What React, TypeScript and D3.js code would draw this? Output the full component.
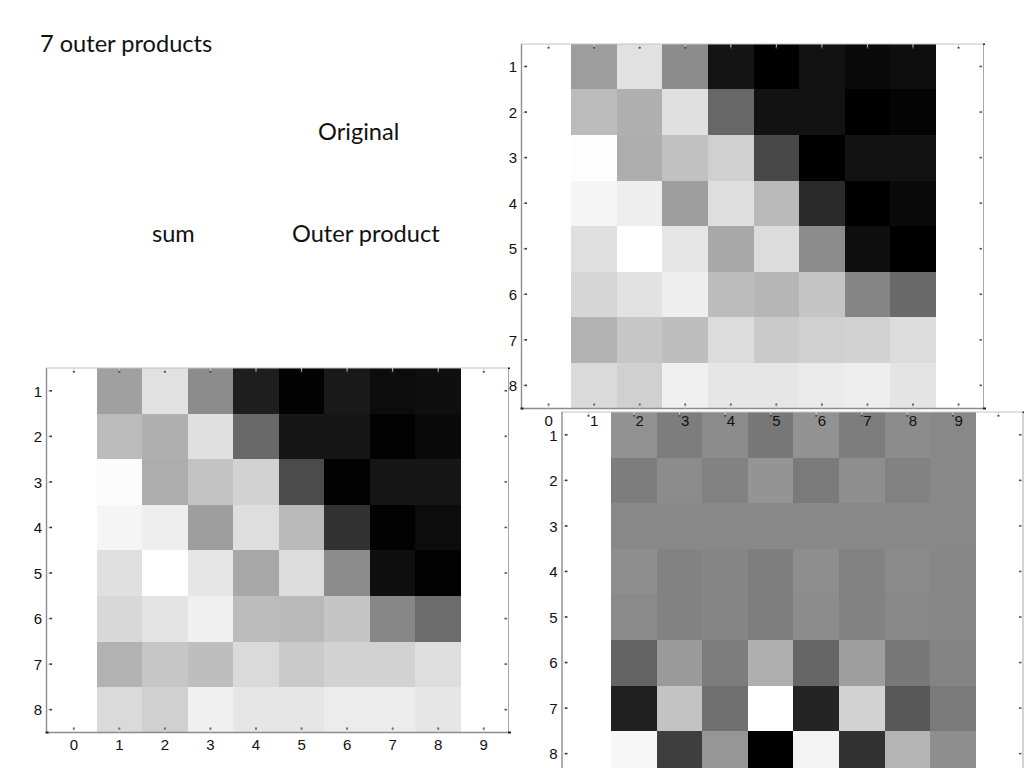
import React from "react";
import * as d3 from "d3";

const originalGrid: number[][] = [
  [157, 225, 140, 20, 0, 18, 10, 14],
  [187, 176, 224, 103, 18, 18, 0, 4],
  [253, 173, 193, 208, 72, 0, 18, 18],
  [245, 238, 158, 222, 185, 42, 0, 10],
  [224, 255, 230, 168, 220, 140, 15, 0],
  [214, 226, 238, 188, 182, 197, 133, 105],
  [178, 198, 190, 220, 202, 208, 210, 220],
  [218, 208, 240, 230, 230, 235, 238, 228],
];
const sumGrid: number[][] = [
  [160, 225, 140, 30, 2, 25, 12, 15],
  [187, 176, 224, 105, 22, 22, 2, 10],
  [252, 173, 195, 210, 75, 2, 22, 22],
  [245, 238, 158, 222, 185, 50, 2, 12],
  [224, 255, 230, 168, 220, 140, 15, 2],
  [216, 228, 240, 188, 185, 197, 135, 108],
  [178, 198, 190, 218, 202, 210, 210, 222],
  [218, 208, 240, 230, 230, 236, 236, 230],
];
const outerGrid: number[][] = [
  [146, 125, 140, 120, 146, 125, 140, 136],
  [125, 140, 130, 148, 122, 142, 130, 136],
  [136, 136, 136, 136, 136, 136, 136, 136],
  [142, 130, 134, 126, 142, 130, 138, 135],
  [138, 130, 134, 126, 140, 130, 136, 135],
  [100, 155, 125, 175, 102, 158, 120, 132],
  [32, 195, 112, 255, 36, 210, 88, 122],
  [247, 62, 150, 0, 243, 50, 180, 142],
];
const xTicks = [0, 1, 2, 3, 4, 5, 6, 7, 8, 9];
const yTicks = [1, 2, 3, 4, 5, 6, 7, 8];
const captions = [
  { text: "7 outer products", x: 40, y: 52 },
  { text: "Original", x: 318, y: 140 },
  { text: "sum", x: 152, y: 242 },
  { text: "Outer product", x: 292, y: 242 },
];

const STEP = 45.55;
const tickFont = "'Liberation Sans', Arial, sans-serif";

function Panel({ grid, x0, y1, left, top, right, bottom, labelY }: {
  grid: number[][]; x0: number; y1: number; left: number; top: number; right: number; bottom: number;
  labelY?: number;
}) {
  const x = d3.scaleLinear().domain([0, 9]).range([x0, x0 + 9 * STEP]);
  const y = d3.scaleLinear().domain([1, 8]).range([y1, y1 + 7 * STEP]);
  const gray = (v: number) => d3.rgb(v, v, v).formatHex();
  return (
    <g>
      {grid.map((row, r) =>
        row.map((v, c) => {
          const xa = Math.round(x(c + 0.5));
          const xb = Math.round(x(c + 1.5));
          const ya = Math.round(y(r + 0.5));
          const yb = Math.round(y(r + 1.5));
          return <rect key={`${r}-${c}`} x={xa} y={ya} width={xb - xa} height={yb - ya} fill={gray(v)} shapeRendering="crispEdges" />;
        })
      )}
      <line x1={left} x2={right} y1={top} y2={top} stroke="#c4c4c4" strokeWidth={1} />
      <line x1={right} x2={right} y1={top} y2={bottom} stroke="#a8a8a8" strokeWidth={1} />
      <line x1={left} x2={left} y1={top} y2={bottom} stroke="#8c8c8c" strokeWidth={1.4} />
      <line x1={left} x2={right} y1={bottom} y2={bottom} stroke="#8c8c8c" strokeWidth={1.4} />
      <rect x={left - 1} y={bottom - 1} width={3} height={2} fill="#222" />
      <rect x={right - 0.5} y={top - 0.5} width={2} height={1.5} fill="#222" />
      <rect x={right - 0.5} y={bottom - 1} width={3} height={2} fill="#222" />
      {xTicks.map((t) => (
        <g key={t}>
          <line x1={x(t)} x2={x(t)} y1={top} y2={top + 3} stroke="#ccc" />
          <rect x={x(t) - 1} y={top + 3} width={2} height={1.6} fill="#444" />
          <line x1={x(t)} x2={x(t)} y1={bottom} y2={bottom - 3} stroke="#ccc" />
          <rect x={x(t) - 1} y={bottom - 5} width={2} height={2} fill="#666" />
          {labelY !== undefined && (
            <text x={x(t)} y={labelY} textAnchor="middle" fontFamily={tickFont} fontSize={15} fill="#111">{t}</text>
          )}
        </g>
      ))}
      {yTicks.map((t) => (
        <g key={t}>
          <line x1={left} x2={left + 3} y1={y(t)} y2={y(t)} stroke="#ccc" />
          <rect x={left + 3} y={y(t) - 1} width={2.5} height={1.6} fill="#333" />
          <rect x={right - 4} y={y(t) - 1} width={2.5} height={1.6} fill="#555" />
          <text x={left - 4.5} y={y(t) + 5.5} textAnchor="end" fontFamily={tickFont} fontSize={15} fill="#111">{t}</text>
        </g>
      ))}
    </g>
  );
}

export default function App() {
  return (
    <svg width={1024} height={768} viewBox="0 0 1024 768" style={{ position: "absolute", left: 0, top: 0, display: "block", background: "#fff" }}>
      <Panel grid={outerGrid} x0={588.5} y1={435} left={562} top={412} right={1023} bottom={790} />
      <Panel grid={originalGrid} x0={548.6} y1={66.7} left={521.5} top={44} right={983.5} bottom={408.5} labelY={426} />
      <Panel grid={sumGrid} x0={73.8} y1={391} left={46.5} top={368} right={508.5} bottom={732.5} labelY={750} />
      {captions.map((c) => (
        <text key={c.text} x={c.x} y={c.y} fontFamily="Lato, 'Open Sans', sans-serif" fontSize={23.6} fill="#111">{c.text}</text>
      ))}
    </svg>
  );
}
